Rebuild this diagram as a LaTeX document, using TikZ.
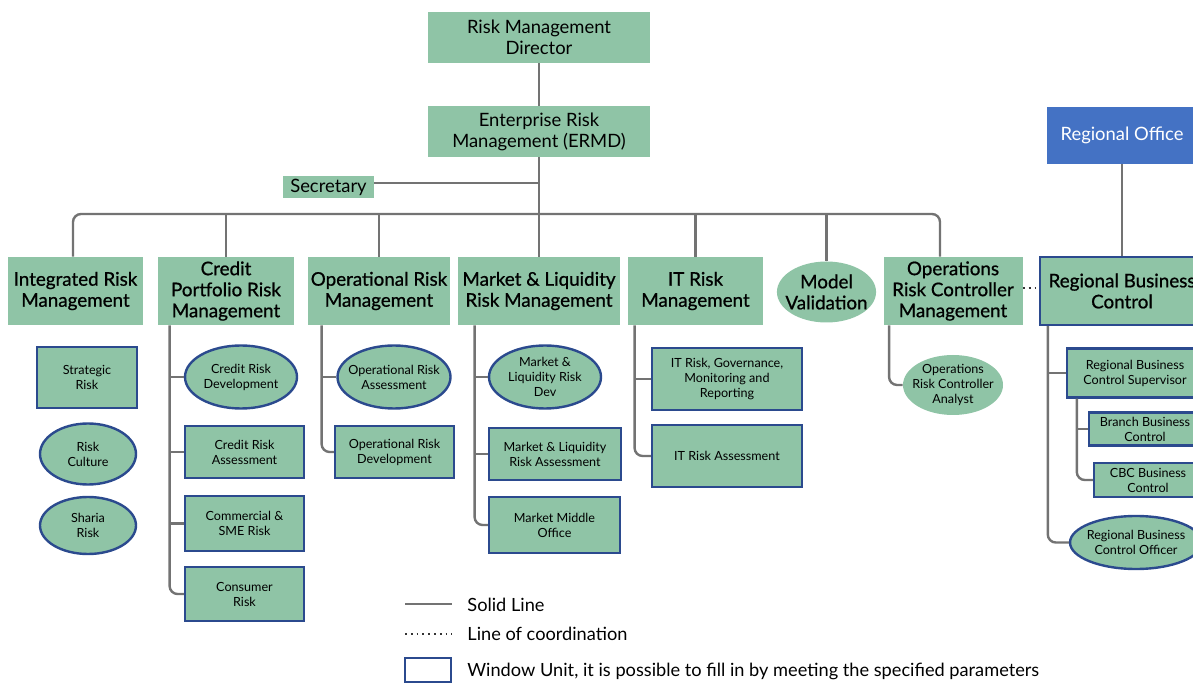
\documentclass[tikz,border=0pt]{standalone}
\usepackage{fontspec}
\setmainfont{Lato}
\newfontfamily\headfamily[FakeBold=0.8]{Lato}
\usetikzlibrary{shapes.geometric}

\definecolor{unitgreen}{HTML}{8FC4A6}
\definecolor{windowblue}{HTML}{2B4A8E}
\definecolor{officeblue}{HTML}{4472C4}
\definecolor{linegray}{HTML}{737373}

\newcommand{\bigfont}{\fontsize{9.2}{10.5}\selectfont}
\newcommand{\headfont}{\headfamily\fontsize{9.4}{10.5}\selectfont}
\newcommand{\smallfont}{\fontsize{6.3}{7.5}\selectfont}

\tikzset{
  unit/.style={rectangle, fill=unitgreen, align=center, inner sep=0pt, font=\bigfont},
  division/.style={rectangle, fill=unitgreen, align=center, inner sep=0pt, font=\headfont, minimum height=34pt},
  unitell/.style={ellipse, fill=unitgreen, align=center, inner sep=0pt, inner xsep=-3pt, font=\smallfont},
  window/.style={rectangle, draw=windowblue, line width=1.2pt, fill=unitgreen, align=center, inner sep=0pt, font=\smallfont},
  windowell/.style={ellipse, draw=windowblue, line width=1.2pt, fill=unitgreen, align=center, inner sep=0pt, inner xsep=-3pt, font=\smallfont},
  link/.style={draw=linegray, line width=1.2pt, rounded corners=4pt},
  coordline/.style={draw=black!80, line width=0.9pt, dotted},
  legendtext/.style={anchor=west, inner sep=0pt, font=\fontsize{9.1}{11}\selectfont}
}

\begin{document}
\begin{tikzpicture}[x=0.5pt, y=-0.5pt]
\clip (0,0) rectangle (1193,683);

% top of the tree
\node[unit, minimum width=111pt, minimum height=25.5pt] (dir) at (539,37.5) {Risk Management\\Director};
\node[unit, minimum width=111pt, minimum height=25.5pt] (ermd) at (539,131.5) {Enterprise Risk\\Management (ERMD)};
\node[unit, minimum width=45.5pt, minimum height=11pt] (sec) at (328.5,187) {Secretary};
\node[unit, fill=officeblue, text=white, minimum width=75pt, minimum height=28.5pt] (ro) at (1122,135.5) {Regional Office};

% divisions
\node[division, minimum width=67.5pt] (irm) at (75.5,291) {Integrated Risk\\Management};
\node[division, minimum width=68pt] (cprm) at (226,291) {Credit\\Portfolio Risk\\Management};
\node[division, minimum width=71pt] (orm) at (379,291) {Operational Risk\\Management};
\node[division, minimum width=81pt] (mlrm) at (539,291) {Market \& Liquidity\\Risk Management};
\node[division, minimum width=67.5pt] (itrm) at (695.5,291) {IT Risk\\Management};
\node[unitell, font=\headfont, minimum width=49pt, minimum height=30.5pt] (mv) at (826.5,292) {Model\\Validation};
\node[division, minimum width=69.5pt] (orcm) at (953,291) {Operations\\Risk Controller\\Management};
\node[division, draw=windowblue, line width=1.2pt, minimum width=82pt] (rbc) at (1122,291) {Regional Business\\Control};

% integrated risk
\node[window, minimum width=50pt, minimum height=30.5pt] (sr) at (87,377.5) {Strategic\\Risk};
\node[windowell, minimum width=48pt, minimum height=30.5pt] (rc) at (88,454) {Risk\\Culture};
\node[windowell, minimum width=48pt, minimum height=28.5pt] (shr) at (88,525.5) {Sharia\\Risk};

% credit portfolio
\node[windowell, minimum width=56pt, minimum height=31.5pt] (crd) at (241,377) {Credit Risk\\Development};
\node[window, minimum width=59.5pt, minimum height=26pt] (cra) at (244.5,452) {Credit Risk\\Assessment};
\node[window, minimum width=59.5pt, minimum height=27.5pt] (csme) at (244.5,523.5) {Commercial \&\\SME Risk};
\node[window, minimum width=59.5pt, minimum height=27pt] (cr) at (244.5,594) {Consumer\\Risk};

% operational
\node[windowell, minimum width=56.5pt, minimum height=31.5pt] (ora) at (394,377) {Operational Risk\\Assessment};
\node[window, minimum width=59.5pt, minimum height=26pt] (ord) at (394.5,452) {Operational Risk\\Development};

% market & liquidity
\node[windowell, minimum width=56pt, minimum height=31.5pt] (mld) at (545,377) {Market \&\\Liquidity Risk\\Dev};
\node[window, minimum width=66pt, minimum height=26pt] (mla) at (555,454) {Market \& Liquidity\\Risk Assessment};
\node[window, minimum width=65.5pt, minimum height=28pt] (mmo) at (554.5,525) {Market Middle\\Office};

% IT
\node[window, minimum width=75pt, minimum height=31pt] (itg) at (727,379) {IT Risk, Governance,\\Monitoring and\\Reporting};
\node[window, minimum width=75pt, minimum height=31pt] (ita) at (727,456) {IT Risk Assessment};

% operations
\node[unitell, minimum width=50pt, minimum height=30pt] (orca) at (953,385) {Operations\\Risk Controller\\Analyst};

% regional
\node[window, minimum width=68pt, minimum height=24.5pt] (rbcs) at (1135,373) {Regional Business\\Control Supervisor};
\node[window, minimum width=56pt, minimum height=16.5pt] (bbc) at (1145,429) {Branch Business\\Control};
\node[window, minimum width=54pt, minimum height=17pt] (cbc) at (1148,480) {CBC Business\\Control};
\node[windowell, minimum width=66pt, minimum height=26.5pt] (rbco) at (1136,542.5) {Regional Business\\Control Officer};

% lines of the tree
\coordinate (bus) at (539,214);
\draw[link] (dir) -- (ermd);
\draw[link] ([yshift=2pt]sec.east) -- ([yshift=2pt]sec.east -| ermd.south);
\draw[link] (ermd.south) -- (mlrm.north);
\draw[link] ([xshift=-1.25pt]irm.north) |- (bus) -| ([xshift=-6.5pt]orcm.north);
\foreach \n in {cprm,orm,itrm,mv}
  \draw[link] (\n.north |- bus) -- (\n.north);
\draw[link] (ro) -- (rbc);
\draw[coordline] ([yshift=1.5pt]orcm.east) -- ([yshift=1.5pt]rbc.west);

\coordinate (cpx) at ([xshift=6pt]cprm.south west);
\draw[link] (cpx) |- (cr.west);
\foreach \n in {crd,cra,csme}
  \draw[link] (cpx |- \n.west) -- (\n.west);

\coordinate (orx) at ([xshift=7pt]orm.south west);
\draw[link] (orx) |- (ord.west);
\draw[link] (orx |- ora.west) -- (ora.west);

\coordinate (mlx) at ([xshift=8.5pt]mlrm.south west);
\draw[link] (mlx) |- (mmo.west);
\foreach \n in {mld,mla}
  \draw[link] (mlx |- \n.west) -- (\n.west);

\coordinate (itx) at ([xshift=3.5pt]itrm.south west);
\draw[link] (itx) |- (ita.west);
\draw[link] (itx |- itg.west) -- (itg.west);

\coordinate (opx) at ([xshift=3pt]orcm.south west);
\draw[link] (opx) |- (orca.west);

\coordinate (rbx) at ([xshift=4.5pt]rbc.south west);
\draw[link] (rbx) |- (rbco.west);
\draw[link] (rbx |- rbcs.west) -- (rbcs.west);

\coordinate (rsx) at ([xshift=5.5pt]rbcs.south west);
\draw[link] (rsx) |- (cbc.west);
\draw[link] (rsx |- bbc.west) -- (bbc.west);

% legend
\coordinate (solidA) at (405,604);
\coordinate (solidB) at (452,604);
\coordinate (dotA) at (405,634);
\coordinate (dotB) at (452,634);
\draw[link] (solidA) -- (solidB);
\draw[coordline] (dotA) -- (dotB);
\node[rectangle, draw=windowblue, line width=1.2pt, fill=white, minimum width=23pt, minimum height=12pt, inner sep=0pt] (legbox) at (428,670) {};
\node[legendtext] (legsolid) at (467,605) {Solid Line};
\node[legendtext] (legdot) at (467,634) {Line of coordination};
\node[legendtext] (legwin) at (467,671) {Window Unit, it is possible to fill in by meeting the specified parameters};
\end{tikzpicture}
\end{document}
